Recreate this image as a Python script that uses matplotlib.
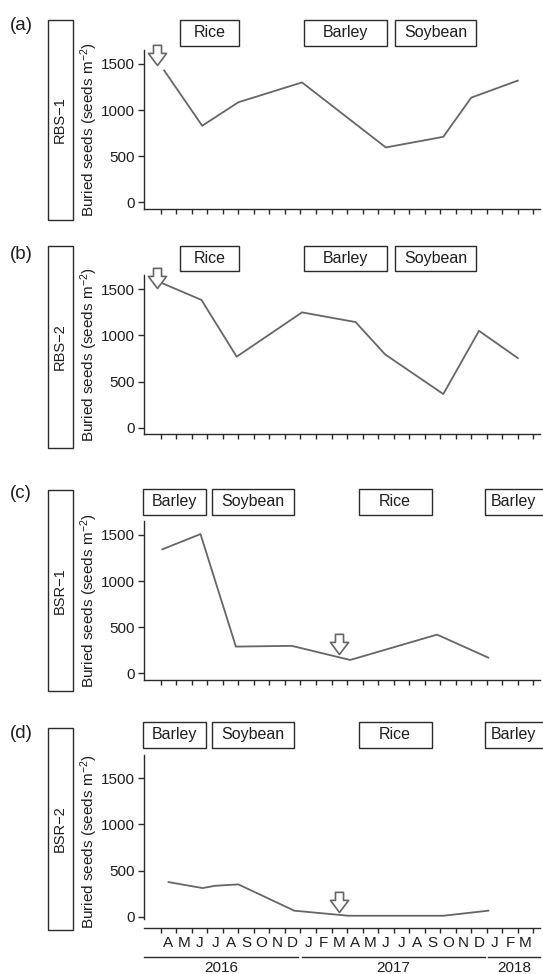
# buried seed bank over time at four sites (RBS-1, RBS-2, BSR-1, BSR-2)

import numpy as np
import matplotlib.pyplot as plt
from matplotlib.path import Path
from matplotlib.patches import Rectangle
from matplotlib.transforms import blended_transform_factory

plt.rcParams['font.family'] = ['Liberation Sans', 'DejaVu Sans']
plt.rcParams['mathtext.fontset'] = 'custom'
plt.rcParams['mathtext.rm'] = 'Liberation Sans'
plt.rcParams['mathtext.it'] = 'Liberation Sans:italic'

# x is in months, 0 = start of April 2016
months = ['A', 'M', 'J', 'J', 'A', 'S', 'O', 'N', 'D',
          'J', 'F', 'M', 'A', 'M', 'J', 'J', 'A', 'S', 'O', 'N', 'D',
          'J', 'F', 'M']
years = ['2016', '2017', '2018']
year_start = [-1.06, 9.1, 21.1]
year_end = [8.85, 20.9, 24.43]

sites = ['RBS\u22121', 'RBS\u22122', 'BSR\u22121', 'BSR\u22122']
tags = ['(a)', '(b)', '(c)', '(d)']

# sampling dates (months) and buried seeds (seeds m-2)
a_x = [0.22, 2.67, 5.0, 9.1, 14.5, 18.2, 20.0, 23.0]
a_y = [1430, 830, 1085, 1300, 595, 710, 1135, 1320]
b_x = [0.11, 2.62, 4.89, 9.1, 12.55, 14.45, 18.2, 20.5, 23.0]
b_y = [1565, 1385, 770, 1250, 1145, 795, 365, 1050, 755]
c_x = [0.11, 2.56, 4.84, 8.44, 12.2, 17.8, 21.1]
c_y = [1345, 1510, 290, 298, 145, 420, 170]
d_x = [0.5, 2.7, 3.5, 5.0, 8.6, 12.1, 18.2, 21.1]
d_y = [375, 310, 335, 350, 65, 10, 10, 65]

# arrows (event marker): month and value of the tip
arrow_x = [-0.24, -0.24, 11.5, 11.5]
arrow_y = [1490, 1510, 210, 55]

# crop periods (months)
rbs_crops = ['Rice', 'Barley', 'Soybean']
rbs_start = [1.25, 9.25, 15.1]
rbs_end = [5.05, 14.6, 20.3]
bsr_crops = ['Barley', 'Soybean', 'Rice', 'Barley']
bsr_start = [-1.15, 3.3, 12.75, 20.9]
bsr_end = [2.9, 8.6, 17.45, 25.5]

W, H = 543, 974
fig = plt.figure(figsize=(W / 100, H / 100), dpi=100)

# layout in pixels
ax_left, ax_right = 144.3, 540
ax_top = [49.7, 275.0, 520.7, 755.3]
ax_bot = [208.75, 434.2, 679.8, 928.2]
crop_box = [(20.2, 45.7), (246.3, 270.5), (488.6, 514.8), (721.5, 747.7)]
site_box = [(20.2, 220), (246.3, 447.9), (490.3, 690.9), (727.5, 929.7)]
tag_y = [26, 254.7, 493.7, 734]

line_col = '#666666'
txt_col = '#1e1e1e'
edge_col = '#2a2a2a'

arrow_path = Path([(0, 0), (0.9, 1.2), (0.4, 1.2), (0.4, 2.0), (-0.4, 2.0),
                   (-0.4, 1.2), (-0.9, 1.2), (0, 0)], closed=True)

def fy(px):
    return 1 - px / H

def fx(px):
    return px / W

xs = [a_x, b_x, c_x, d_x]
ys = [a_y, b_y, c_y, d_y]

for i in range(4):
    last = (i == 3)
    ylim = (-125, 1750) if last else (-70, 1655)
    ax = fig.add_axes([fx(ax_left), fy(ax_bot[i]), fx(ax_right - ax_left),
                       (ax_bot[i] - ax_top[i]) / H])
    ax.plot(xs[i], ys[i], color=line_col, lw=1.3)
    ax.plot([arrow_x[i]], [arrow_y[i]], marker=arrow_path, ms=29, mfc='white',
            mec=line_col, mew=1.2, clip_on=False, zorder=5)
    ax.set_xlim(-1.06, 24.43)
    ax.set_ylim(*ylim)
    ax.spines['top'].set_visible(False)
    ax.spines['right'].set_visible(False)
    for s in ['left', 'bottom']:
        ax.spines[s].set_color(edge_col)
        ax.spines[s].set_linewidth(1.0)
    if last:
        ax.spines['left'].set_bounds(-20, 1750)
    ax.set_yticks([0, 500, 1000, 1500])
    ax.tick_params(axis='y', direction='out', length=4.3, width=1.0, pad=2.5,
                   labelsize=11, colors=edge_col, labelcolor=txt_col)
    ax.set_xticks(np.arange(0, 25))
    ax.tick_params(axis='x', which='major', direction='out', length=3.8,
                   width=1.0, colors=edge_col, labelbottom=False)
    if last:
        ax.set_xticks(np.arange(24) + 0.5, minor=True)
        ax.set_xticklabels(months, minor=True)
        ax.tick_params(axis='x', which='minor', length=0, pad=5.5,
                       labelsize=11, labelcolor=txt_col)
        tr = blended_transform_factory(ax.transData, ax.transAxes)
        for k in range(3):
            ax.plot([year_start[k], year_end[k]], [-0.165, -0.165], color=edge_col,
                    lw=1.0, transform=tr, clip_on=False)
            ax.text((year_start[k] + year_end[k]) / 2, -0.192, years[k],
                    transform=tr, ha='center', va='top', fontsize=11, color=txt_col)
    else:
        ax.tick_params(axis='x', which='minor', bottom=False)
    ax.set_ylabel('Buried seeds (seeds m$^{-2}$)', fontsize=11, color=txt_col)
    ax.yaxis.set_label_coords(-0.112, 0.5)

    # crop boxes above the panel
    if i < 2:
        names, starts, ends = rbs_crops, rbs_start, rbs_end
    else:
        names, starts, ends = bsr_crops, bsr_start, bsr_end
    trf = blended_transform_factory(ax.transData, fig.transFigure)
    b0, b1 = crop_box[i]
    for name, s, e in zip(names, starts, ends):
        ax.add_patch(Rectangle((s, fy(b1)), e - s, (b1 - b0) / H, transform=trf,
                               fill=False, ec=edge_col, lw=1.0, clip_on=False))
        xc = (s + min(e, 25.0)) / 2
        if e > 24.5:
            xc = s + 1.8
        ax.text(xc, fy((b0 + b1) / 2), name, transform=trf, ha='center',
                va='center', fontsize=11.5, color=txt_col)

    # site label box on the left
    s0, s1 = site_box[i]
    fig.patches.append(Rectangle((fx(47.5), fy(s1)), fx(72.5 - 47.5), (s1 - s0) / H,
                                 transform=fig.transFigure, fill=False,
                                 ec=edge_col, lw=1.0))
    fig.text(fx((47.5 + 72.5) / 2), fy((s0 + s1) / 2), sites[i], rotation=90,
             ha='center', va='center', fontsize=10.5, color=txt_col)
    fig.text(fx(10), fy(tag_y[i]), tags[i], ha='left', va='center',
             fontsize=13.5, color=txt_col)

fig.savefig('out.png', dpi=100)
